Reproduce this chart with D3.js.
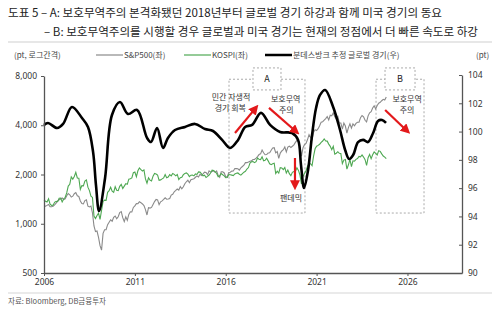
<!DOCTYPE html>
<html>
<head>
<meta charset="utf-8">
<script src="https://cdn.jsdelivr.net/npm/d3@7"></script>
<style>
  body { margin: 0; background: #fff; }
  svg { display: block; font-family: "Noto Sans CJK KR", "Noto Sans", sans-serif; }
</style>
</head>
<body>
<svg class="chart" width="500" height="309"></svg>
<script>
// S&P500 month-end levels, Jan 2006 .. Nov 2024 (left axis, log)
var spxValues = [
  1280,1281,1295,1311,1270,1270,1277,1304,1336,1378,1401,1418,
  1438,1407,1421,1482,1531,1503,1455,1474,1527,1549,1481,1468,
  1379,1331,1323,1386,1400,1280,1267,1283,1166,969,896,903,
  826,735,690,873,919,919,987,1021,1057,1036,1096,1115,
  1074,1104,1169,1187,1089,1031,1102,1049,1141,1183,1181,1258,
  1286,1327,1326,1364,1345,1321,1292,1219,1131,1253,1247,1258,
  1312,1366,1408,1398,1310,1362,1379,1407,1441,1412,1416,1426,
  1498,1515,1569,1598,1631,1606,1686,1633,1682,1757,1806,1848,
  1783,1859,1872,1884,1924,1960,1931,2003,1972,2018,2068,2059,
  1995,2105,2068,2086,2107,2063,2104,1972,1920,2079,2080,2044,
  1940,1932,2060,2065,2097,2099,2174,2171,2168,2126,2199,2239,
  2279,2364,2363,2384,2412,2423,2470,2472,2519,2575,2648,2674,
  2824,2714,2641,2648,2705,2718,2816,2902,2914,2712,2760,2507,
  2704,2784,2834,2946,2752,2942,2980,2926,2977,3038,3141,3231,
  3226,2954,2585,2912,3044,3100,3271,3500,3363,3270,3622,3756,
  3714,3811,3973,4181,4204,4298,4395,4523,4308,4605,4567,4766,
  4516,4374,4530,4132,4132,3785,4130,3955,3586,3872,4080,3840,
  4077,3970,4109,4169,4180,4450,4589,4508,4288,4194,4568,4770,
  4846,5096,5254,5036,5278,5460,5522,5648,5762,5705,5950
];

// KOSPI month-end levels, Jan 2006 .. Nov 2024 (left axis, log)
var kospiValues = [
  1399,1371,1359,1420,1318,1295,1297,1352,1371,1364,1432,1434,
  1360,1417,1452,1543,1700,1743,1933,1873,1946,2064,1906,1897,
  1624,1711,1704,1825,1852,1674,1594,1474,1448,1113,1076,1124,
  1162,1063,1206,1369,1395,1390,1557,1591,1673,1580,1555,1683,
  1602,1594,1692,1741,1641,1698,1759,1742,1873,1883,1905,2051,
  2069,1939,2107,2192,2142,2101,2133,1880,1770,1909,1847,1826,
  1955,2030,2014,1982,1843,1854,1881,1905,1996,1912,1932,1997,
  1961,2027,2004,1964,2001,1863,1914,1926,1997,2030,2045,2011,
  1941,1980,1986,1962,2017,2002,2076,2068,2020,1964,1981,1916,
  1949,1986,2041,2127,2114,2074,2030,1941,1963,2029,1992,1961,
  1912,1917,1996,1994,1983,1970,2016,2034,2044,2008,1983,2026,
  2067,2091,2160,2205,2347,2392,2402,2363,2394,2523,2476,2467,
  2566,2427,2445,2515,2423,2326,2295,2323,2343,2029,2097,2041,
  2204,2195,2141,2204,2041,2130,2025,1967,2063,2083,2087,2197,
  2119,1987,1754,1947,2029,2108,2249,2326,2327,2267,2591,2873,
  2976,3013,3061,3147,3204,3297,3202,3199,3068,2971,2839,2977,
  2663,2699,2757,2695,2685,2332,2451,2472,2155,2293,2472,2236,
  2425,2412,2476,2501,2577,2564,2632,2556,2465,2277,2535,2655,
  2497,2642,2747,2692,2636,2797,2770,2674,2593,2556,2500
];

// Bundesbank-estimated global activity (right axis)
var gloYears = [
  2006.00,2006.22,2006.72,2007.05,2007.54,2008.09,2008.42,2008.70,2008.86,2009.03,
  2009.36,2009.74,2010.18,2010.62,2011.12,2011.67,2011.89,2012.22,2012.55,2012.82,
  2013.21,2013.76,2014.31,2014.86,2015.30,2015.80,2016.24,2016.68,2017.07,2017.45,
  2017.94,2018.44,2018.99,2019.65,2019.98,2020.14,2020.31,2020.53,2020.75,2020.97,
  2021.19,2021.47,2021.91,2022.29,2022.57,2022.79,2023.01,2023.28,2023.56,2023.83,
  2024.11,2024.38,2024.60,2024.82
];
var gloValues = [
  100.47,100.61,100.25,100.54,101.74,100.96,100.33,98.56,96.22,94.38,
  96.72,101.17,102.09,101.24,101.53,99.55,99.26,100.25,98.84,99.55,
  100.11,100.33,100.54,100.18,100.04,99.41,98.84,99.41,100.33,100.47,
  101.32,100.47,99.97,99.90,99.41,97.64,96.01,97.28,99.76,101.67,
  102.59,102.94,101.74,100.11,98.70,98.06,98.34,99.26,99.41,99.26,
  99.90,100.75,100.82,100.61
];

var leftTicks = [500, 1000, 2000, 4000, 8000];
var rightTicks = [90, 92, 94, 96, 98, 100, 102, 104];
var yearTicks = [2006, 2011, 2016, 2021, 2026];

// periods A / B  [from, to] in years
var boxA = [2016.18, 2020.36];
var boxB = [2024.27, 2026.91];

var svg = d3.select(".chart");

var x = d3.scaleLinear().domain([2006, 2029]).range([44, 462]);
var yL = d3.scaleLog().domain([500, 8000]).range([273, 76]);
var yR = d3.scaleLinear().domain([90, 104]).range([273, 75]);

function monthYear(i) { return 2006 + i / 12; }

// title
svg.append("text").attr("x", 8).attr("y", 17)
    .attr("font-size", 11.5).attr("fill", "#222")
    .attr("textLength", 434).attr("lengthAdjust", "spacingAndGlyphs")
    .text("도표 5 – A: 보호무역주의 본격화됐던 2018년부터 글로벌 경기 하강과 함께 미국 경기의 동요");
svg.append("text").attr("x", 44).attr("y", 36)
    .attr("font-size", 11.5).attr("fill", "#222")
    .attr("textLength", 434).attr("lengthAdjust", "spacingAndGlyphs")
    .text("– B: 보호무역주의를 시행할 경우 글로벌과 미국 경기는 현재의 정점에서 더 빠른 속도로 하강");
svg.append("line").attr("x1", 8).attr("x2", 492).attr("y1", 42).attr("y2", 42)
    .attr("stroke", "#cfcfcf").attr("stroke-width", 1);

// legend row
var lg = svg.append("g").attr("font-size", 8).attr("fill", "#444");
lg.append("text").attr("x", 14).attr("y", 58).text("(pt, 로그간격)");
lg.append("text").attr("x", 476).attr("y", 58).text("(pt)");
var legend = [
  { x: 96, label: "S&P500(좌)", color: "#8a8a8a", w: 1.2 },
  { x: 184, label: "KOSPI(좌)", color: "#4ea852", w: 1.2 },
  { x: 265, label: "분데스방크 추정 글로벌 경기(우)", color: "#000", w: 2.5 }
];
legend.forEach(function(d) {
  svg.append("line").attr("x1", d.x).attr("x2", d.x + 27).attr("y1", 55).attr("y2", 55)
      .attr("stroke", d.color).attr("stroke-width", d.w);
  lg.append("text").attr("x", d.x + 28).attr("y", 58).text(d.label);
});

// dashed boxes
function drawBox(range, label) {
  var x0 = x(range[0]), x1 = x(range[1]);
  svg.append("rect").attr("x", x0).attr("y", yR(103.7))
      .attr("width", x1 - x0).attr("height", yR(94.24) - yR(103.7))
      .attr("fill", "none").attr("stroke", "#a0a0a0").attr("stroke-width", 0.9)
      .attr("stroke-dasharray", "2,2");
  var cx = (x0 + x1) / 2, bw = label === "A" ? 28 : 30;
  svg.append("rect").attr("x", cx - bw / 2).attr("y", yR(104.5))
      .attr("width", bw).attr("height", 22)
      .attr("fill", "#fff").attr("stroke", "#a0a0a0").attr("stroke-width", 0.9)
      .attr("stroke-dasharray", "2,2");
  svg.append("text").attr("x", cx).attr("y", yR(104.5) + 14.5)
      .attr("text-anchor", "middle").attr("font-size", 9).attr("fill", "#222")
      .text(label);
}
drawBox(boxA, "A");
drawBox(boxB, "B");

// lines
var lineL = d3.line()
    .x(function(d, i) { return x(monthYear(i)); })
    .y(function(d) { return yL(d); });

svg.append("path").datum(spxValues)
    .attr("d", lineL).attr("fill", "none")
    .attr("stroke", "#8a8a8a").attr("stroke-width", 1.1);

svg.append("path").datum(kospiValues)
    .attr("d", lineL).attr("fill", "none")
    .attr("stroke", "#4ea852").attr("stroke-width", 1.1);

var lineR = d3.line()
    .curve(d3.curveCatmullRom.alpha(0.5))
    .x(function(d, i) { return x(gloYears[i]); })
    .y(function(d) { return yR(d); });

svg.append("path").datum(gloValues)
    .attr("d", lineR).attr("fill", "none")
    .attr("stroke", "#000").attr("stroke-width", 2.6)
    .attr("stroke-linejoin", "round");

// axes
function styleAxis(g) {
  g.select(".domain").attr("stroke", "#555").attr("stroke-width", 1.3);
  g.selectAll(".tick line").attr("stroke", "#555");
  g.selectAll(".tick text").attr("fill", "#333").attr("font-size", 8.5)
      .attr("font-family", "Noto Sans, sans-serif");
}

svg.append("g").attr("transform", "translate(44,0)")
    .call(d3.axisLeft(yL).tickValues(leftTicks).tickFormat(d3.format(","))
        .tickSize(3).tickSizeOuter(0).tickPadding(4))
    .call(styleAxis);

svg.append("g").attr("transform", "translate(462,0)")
    .call(d3.axisRight(yR).tickValues(rightTicks).tickFormat(d3.format("d"))
        .tickSize(-3).tickSizeOuter(0).tickPadding(6))
    .call(styleAxis);

svg.append("g").attr("transform", "translate(0,273)")
    .call(d3.axisBottom(x).tickValues(yearTicks).tickFormat(d3.format("d"))
        .tickSize(3).tickSizeOuter(0).tickPadding(3))
    .call(styleAxis);

// red arrows
svg.append("defs").append("marker")
    .attr("id", "arrowhead").attr("viewBox", "0 0 10 10")
    .attr("refX", 5).attr("refY", 5)
    .attr("markerWidth", 4.5).attr("markerHeight", 4.5)
    .attr("orient", "auto")
    .append("path").attr("d", "M0,0 L10,5 L0,10 z").attr("fill", "#e3191b");

var arrows = [
  [2016.51, 99.9, 2017.62, 101.62],
  [2018.38, 101.67, 2019.85, 100.02],
  [2019.81, 98.13, 2019.81, 96.2],
  [2024.77, 101.53, 2025.95, 100.08]
];
arrows.forEach(function(a) {
  svg.append("line")
      .attr("x1", x(a[0])).attr("y1", yR(a[1]))
      .attr("x2", x(a[2])).attr("y2", yR(a[3]))
      .attr("stroke", "#e3191b").attr("stroke-width", 2.2)
      .attr("marker-end", "url(#arrowhead)");
});

// notes
var notes = [
  [2016.29, 102.25, "민간 자생적"],
  [2016.25, 101.45, "경기 회복"],
  [2019.30, 102.10, "보호무역"],
  [2019.33, 101.30, "주의"],
  [2019.59, 95.1, "팬데믹"],
  [2025.98, 102.10, "보호무역"],
  [2025.98, 101.30, "주의"]
];
notes.forEach(function(n) {
  svg.append("text").attr("x", x(n[0])).attr("y", yR(n[1]))
      .attr("text-anchor", "middle").attr("font-size", 8).attr("fill", "#333")
      .text(n[2]);
});

// source
svg.append("line").attr("x1", 8).attr("x2", 492).attr("y1", 293).attr("y2", 293)
    .attr("stroke", "#d5d5d5").attr("stroke-width", 1);
svg.append("text").attr("x", 8).attr("y", 304)
    .attr("font-size", 7.5).attr("fill", "#555")
    .text("자료: Bloomberg, DB금융투자");
</script>
</body>
</html>
